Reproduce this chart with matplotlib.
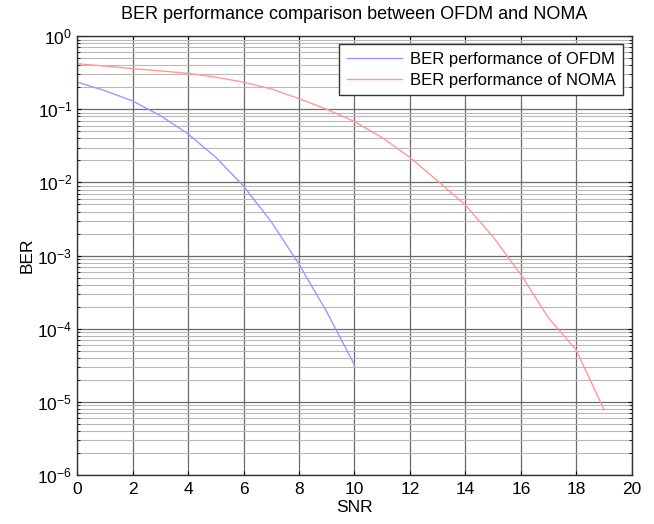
import numpy as np
import matplotlib
matplotlib.use('Agg')
import matplotlib.pyplot as plt
from matplotlib.ticker import LogLocator, NullFormatter, FixedLocator

plt.rcParams['font.family'] = ['Liberation Sans', 'DejaVu Sans']

# data (SNR in dB, BER)
snr_ofdm = [0, 1, 2, 3, 4, 5, 6, 7, 8, 9, 10]
ber_ofdm = [0.235, 0.18, 0.13, 0.082, 0.046, 0.022, 0.0089, 0.0029, 0.00076, 0.00017, 0.000032]

snr_noma = [0, 1, 2, 3, 4, 5, 6, 7, 8, 9, 10, 11, 12, 13, 14, 15, 16, 17, 18, 19]
ber_noma = [0.42, 0.39, 0.36, 0.335, 0.31, 0.275, 0.235, 0.19, 0.14, 0.1, 0.068,
            0.041, 0.022, 0.0105, 0.0049, 0.0018, 0.00055, 0.00014, 0.000051, 0.0000078]

fig = plt.figure(figsize=(6.54, 5.24), dpi=100)
ax = fig.add_axes([0.118, 0.0935, 0.848, 0.8375])

ax.semilogy(snr_ofdm, ber_ofdm, color=(0.6, 0.6, 1.0), lw=1.0, label='BER performance of OFDM')
ax.semilogy(snr_noma, ber_noma, color=(1.0, 0.6, 0.6), lw=1.0, label='BER performance of NOMA')

ax.set_xlim(0, 20)
ax.set_ylim(1e-6, 1)
ax.xaxis.set_major_locator(FixedLocator(np.arange(0, 21, 2)))
ax.yaxis.set_major_locator(LogLocator(base=10, numticks=10))
ax.yaxis.set_minor_locator(LogLocator(base=10, subs=np.arange(2, 10), numticks=10))
ax.yaxis.set_minor_formatter(NullFormatter())

ax.grid(True, which='major', color='#6a6a6a', lw=0.9)
ax.grid(True, which='minor', axis='y', color='#b8b8b8', lw=0.8)
ax.set_axisbelow(True)

ax.tick_params(which='both', direction='in', top=True, right=True, labelsize=12.5, colors='black')
ax.tick_params(which='major', length=3)
ax.tick_params(axis='x', pad=5)
ax.tick_params(which='minor', length=2)
for s in ax.spines.values():
    s.set_color('#333333')
    s.set_linewidth(1.0)

ax.set_xlabel('SNR', fontsize=12.5, labelpad=2)
ax.set_ylabel('BER', fontsize=12.5, labelpad=2)
ax.set_title('BER performance comparison between OFDM and NOMA', fontsize=13, pad=12)

leg = ax.legend(loc='upper right', fontsize=12, fancybox=False, framealpha=1,
                edgecolor='#333333', handlelength=3.3, handletextpad=0.5,
                borderaxespad=0.5, borderpad=0.45, labelspacing=0.35)
leg.get_frame().set_linewidth(1.0)

fig.savefig('out.png', dpi=100)
